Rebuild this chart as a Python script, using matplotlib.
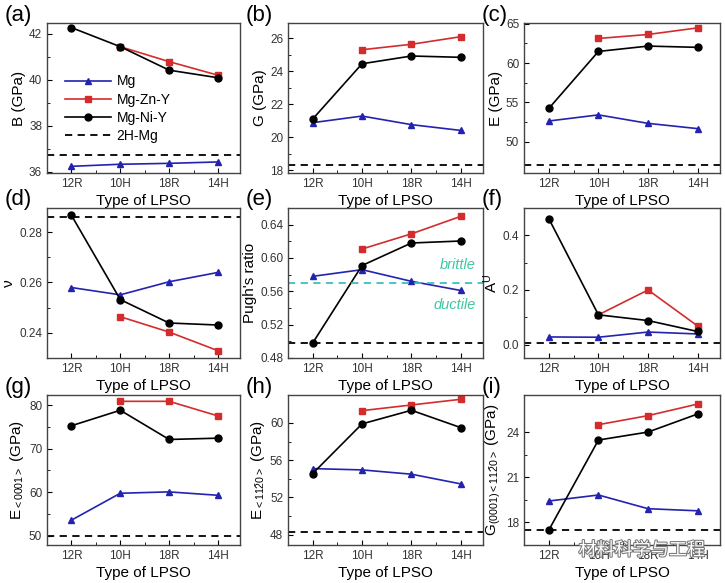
import matplotlib.pyplot as plt
import matplotlib.patheffects as pe
import numpy as np

plt.rcParams['font.family'] = ['Liberation Sans', 'DejaVu Sans']
plt.rcParams['mathtext.fontset'] = 'custom'
plt.rcParams['mathtext.rm'] = 'Liberation Sans'
plt.rcParams['mathtext.it'] = 'Liberation Sans:italic'

nan = np.nan
lpso = ['12R', '10H', '18R', '14H']
x = np.arange(1, 5)

# values per panel: Mg, Mg-Zn-Y, Mg-Ni-Y, 2H-Mg reference
B_mg = [36.24, 36.33, 36.37, 36.43]
B_zn = [nan, 41.44, 40.79, 40.2]
B_ni = [42.27, 41.44, 40.42, 40.09]
B_ref = 36.72

G_mg = [20.89, 21.29, 20.77, 20.42]
G_zn = [nan, 25.31, 25.64, 26.1]
G_ni = [21.11, 24.46, 24.93, 24.85]
G_ref = 18.34

E_mg = [52.62, 53.4, 52.32, 51.65]
E_zn = [nan, 63.13, 63.64, 64.48]
E_ni = [54.22, 61.48, 62.16, 62.0]
E_ref = 47.08

nu_mg = [0.258, 0.2551, 0.2603, 0.264]
nu_zn = [nan, 0.2464, 0.2403, 0.2329]
nu_ni = [0.2867, 0.2532, 0.2439, 0.2431]
nu_ref = 0.286

pugh_mg = [0.578, 0.586, 0.572, 0.561]
pugh_zn = [nan, 0.6108, 0.629, 0.65]
pugh_ni = [0.498, 0.591, 0.618, 0.6204]
pugh_ref = 0.498
pugh_crit = 0.57

AU_mg = [0.028, 0.027, 0.046, 0.039]
AU_zn = [nan, 0.109, 0.2, 0.068]
AU_ni = [0.461, 0.109, 0.088, 0.048]
AU_ref = 0.006

E0001_mg = [53.6, 59.77, 60.08, 59.3]
E0001_zn = [nan, 80.85, 80.85, 77.5]
E0001_ni = [75.25, 78.8, 72.1, 72.4]
E0001_ref = 50.0

E1120_mg = [55.1, 54.96, 54.5, 53.46]
E1120_zn = [nan, 61.32, 61.93, 62.54]
E1120_ni = [54.57, 59.9, 61.36, 59.5]
E1120_ref = 48.25

Gs_mg = [19.42, 19.82, 18.91, 18.77]
Gs_zn = [nan, 24.49, 25.09, 25.86]
Gs_ni = [17.49, 23.47, 24.0, 25.2]
Gs_ref = 17.49

panels = [
    ('(a)', 'B (GPa)', B_mg, B_zn, B_ni, B_ref, (35.95, 42.47), [36, 38, 40, 42], '%g'),
    ('(b)', 'G (GPa)', G_mg, G_zn, G_ni, G_ref, (17.84, 26.93), [18, 20, 22, 24, 26], '%g'),
    ('(c)', 'E (GPa)', E_mg, E_zn, E_ni, E_ref, (46.0, 65.1), [50, 55, 60, 65], '%g'),
    ('(d)', 'ν', nu_mg, nu_zn, nu_ni, nu_ref, (0.23, 0.2896), [0.24, 0.26, 0.28], '%.2f'),
    ('(e)', "Pugh's ratio", pugh_mg, pugh_zn, pugh_ni, pugh_ref, (0.48, 0.66), [0.48, 0.52, 0.56, 0.60, 0.64], '%.2f'),
    ('(f)', r'A$^{\mathrm{U}}$', AU_mg, AU_zn, AU_ni, AU_ref, (-0.049, 0.5), [0.0, 0.2, 0.4], '%.1f'),
    ('(g)', r'E$_{{<}0001{>}}$ (GPa)', E0001_mg, E0001_zn, E0001_ni, E0001_ref, (47.9, 82.3), [50, 60, 70, 80], '%g'),
    ('(h)', r'E$_{{<}11\bar{2}0{>}}$ (GPa)', E1120_mg, E1120_zn, E1120_ni, E1120_ref, (46.9, 63.0), [48, 52, 56, 60], '%g'),
    ('(i)', r'G$_{(0001){<}11\bar{2}0{>}}$ (GPa)', Gs_mg, Gs_zn, Gs_ni, Gs_ref, (16.5, 26.46), [18, 21, 24], '%g'),
]

W, H = 725, 583
fig = plt.figure(figsize=(W / 100, H / 100), dpi=100)
lefts = [47, 288, 524]
widths = [193, 195, 196]
tops = [23, 208, 395]
h = 150

blue = '#2323b0'
red = '#d42c2c'

for i, (lab, ylab, mg, zn, ni, ref, ylim, yt, fmt) in enumerate(panels):
    r, c = divmod(i, 3)
    ax = fig.add_axes([lefts[c] / W, 1 - (tops[r] + h) / H, widths[c] / W, h / H])
    ax.plot(x, mg, '-^', color=blue, ms=5, lw=1.2, label='Mg')
    ax.plot(x, zn, '-s', color=red, ms=4.5, lw=1.2, label='Mg-Zn-Y')
    ax.plot(x, ni, '-o', color='black', ms=5, lw=1.2, label='Mg-Ni-Y')
    ax.axhline(ref, color='black', ls='--', lw=1.3, dashes=(4, 3), label='2H-Mg')
    ax.set_xlim(0.5, 4.45)
    ax.set_ylim(*ylim)
    ax.set_xticks(x)
    ax.set_xticklabels(lpso)
    ax.set_xticks([1.5, 2.5, 3.5], minor=True)
    ax.set_yticks(yt)
    ax.set_yticks([(a + b) / 2 for a, b in zip(yt[:-1], yt[1:])], minor=True)
    ax.set_yticklabels([fmt % v for v in yt])
    ax.tick_params(which='both', direction='in', labelsize=8.5, labelcolor='#333333')
    ax.tick_params(which='major', length=3.5)
    ax.tick_params(which='minor', length=2)
    for s in ax.spines.values():
        s.set_color('#444444')
        s.set_linewidth(1.0)
    ax.set_xlabel('Type of LPSO', fontsize=11, labelpad=3)
    ax.set_ylabel(ylab, fontsize=11, labelpad=2)
    fig.text((lefts[c] - 42) / W, 1 - (tops[r] - 8) / H, lab, fontsize=16, va='center', ha='left')

    if i == 0:
        ax.legend(loc='upper left', bbox_to_anchor=(0.03, 0.74), frameon=False,
                  fontsize=10, handlelength=3.3, labelspacing=0.3, handletextpad=0.4)
    if i == 4:
        ax.axhline(pugh_crit, color='#3fbfbf', ls='--', lw=1.3, dashes=(4, 3))
        ax.text(4.3, 0.592, 'brittle', color='#3cc8a0', style='italic', fontsize=10.5, ha='right', va='center')
        ax.text(4.3, 0.544, 'ductile', color='#3cc8a0', style='italic', fontsize=10.5, ha='right', va='center')
    if i == 8:
        # watermark sitting over the tick labels
        ax.text(0.6, -0.035, '材料科学与工程', transform=ax.transAxes, fontsize=13,
                family=['Noto Sans CJK SC', 'DejaVu Sans'], color='white', ha='center', va='center',
                path_effects=[pe.withStroke(linewidth=1.5, foreground='#777777')])

fig.savefig('out.png', dpi=100)
